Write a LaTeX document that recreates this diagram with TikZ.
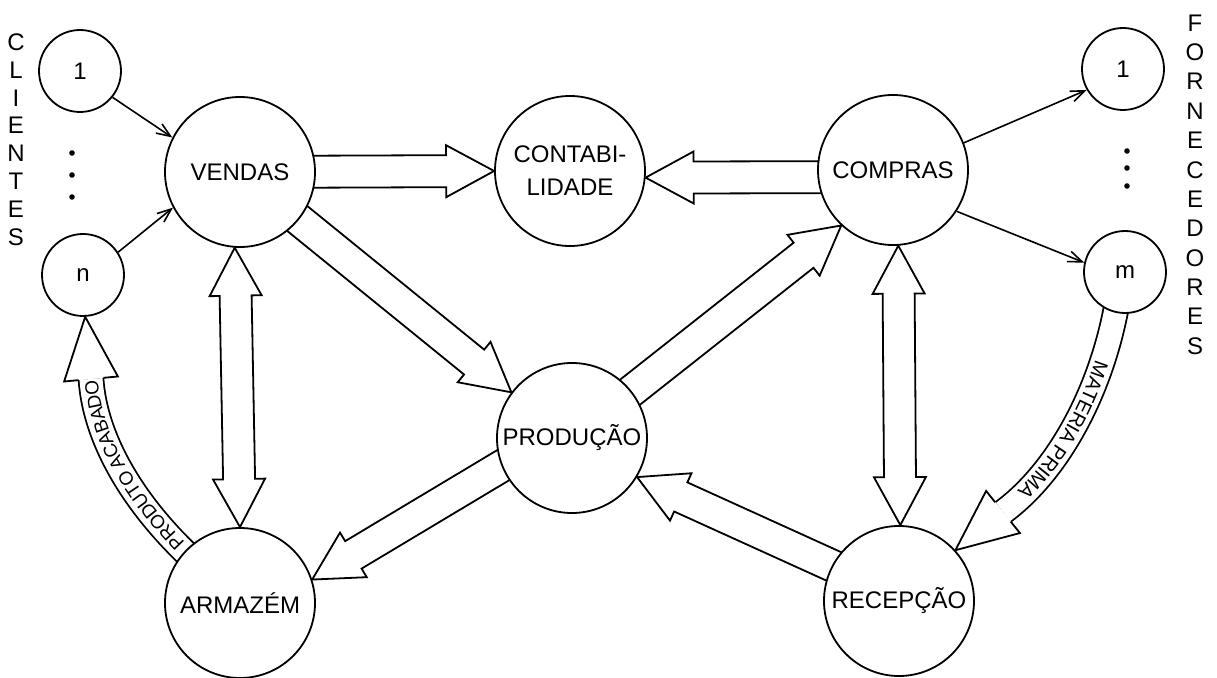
\documentclass[tikz,border=0pt]{standalone}
\usepackage{fontspec}
\setmainfont{Liberation Sans}
\usetikzlibrary{calc,arrows.meta,decorations.text}
\pgfdeclarelayer{under}
\pgfsetlayers{under,main}

% straight block arrow: #1 tail (hidden inside the source circle), #2 tip
\newcommand\flowarrow[2]{%
  \coordinate (fa-h) at ($(#2)!24pt!(#1)$);
  \filldraw[blockline] ($(#1)!8pt!90:(#2)$) -- ($(fa-h)!8pt!90:(#2)$) -- ($(fa-h)!13pt!90:(#2)$) -- (#2)
    -- ($(fa-h)!13pt!-90:(#2)$) -- ($(fa-h)!8pt!-90:(#2)$) -- ($(#1)!8pt!-90:(#2)$);
}
% block arrow with a head at both ends
\newcommand\dualarrow[2]{%
  \coordinate (da-a) at ($(#1)!24pt!(#2)$);
  \coordinate (da-b) at ($(#2)!24pt!(#1)$);
  \filldraw[blockline] (#1) -- ($(da-a)!13pt!90:(#2)$) -- ($(da-a)!8pt!90:(#2)$)
    -- ($(da-b)!8pt!-90:(#1)$) -- ($(da-b)!13pt!-90:(#1)$) -- (#2)
    -- ($(da-b)!13pt!90:(#1)$) -- ($(da-b)!8pt!90:(#1)$)
    -- ($(da-a)!8pt!-90:(#2)$) -- ($(da-a)!13pt!-90:(#2)$) -- cycle;
}
% head of a curved block arrow: #1 head base, #2 tip
\newcommand\curvehead[2]{%
  \filldraw[blockline] ($(#1)!6.2pt!90:(#2)$) -- ($(#1)!13.5pt!90:(#2)$) -- (#2)
    -- ($(#1)!13.5pt!-90:(#2)$) -- ($(#1)!6.2pt!-90:(#2)$);
}

\tikzset{
  bigc/.style={circle, draw, fill=white, line width=0.9pt, minimum size=75pt, inner sep=0pt,
    align=center, font=\fontsize{12}{16.5}\selectfont},
  smallc/.style={circle, draw, fill=white, line width=0.9pt, minimum size=41pt, inner sep=0pt,
    font=\fontsize{12}{14}\selectfont},
  blockline/.style={draw, fill=white, line width=0.9pt},
  curveshaft/.style={line width=0.9pt, double=white, double distance=11.5pt},
  thinarr/.style={line width=0.8pt, -{Straight Barb[length=7pt,width=5.5pt]}},
  sidelabel/.style={inner sep=0pt, font=\fontsize{12}{14}\selectfont},
  dotmark/.style={circle, fill, inner sep=0pt, minimum size=2.8pt},
}

\begin{document}
\begin{tikzpicture}[x=0.5pt, y=-0.5pt]
\useasboundingbox (0,0) rectangle (1217,678);

% processes
\node[bigc] (ven)  at (240,172) {VENDAS};
\node[bigc] (cont) at (570,171) {CONTABI-\\LIDADE};
\node[bigc] (comp) at (893,170) {COMPRAS};
\node[bigc] (prod) at (572,438) {PRODUÇÃO};
\node[bigc] (arm)  at (240,603) {ARMAZÉM};
\node[bigc] (rec)  at (899,601) {RECEPÇÃO};

% clients and suppliers
\node[smallc] (c1) at (80,71) {1};
\node[smallc] (cn) at (83,275) {n};
\node[smallc] (f1) at (1123,69) {1};
\node[smallc] (fm) at (1125,272) {m};

\node[dotmark] (cd1) at (72,153) {};
\node[dotmark] (cd2) at (72,175) {};
\node[dotmark] (cd3) at (72,197) {};
\node[dotmark] (fd1) at (1127,151) {};
\node[dotmark] (fd2) at (1127,168) {};
\node[dotmark] (fd3) at (1127,186) {};

\foreach \ch [count=\i from 0] in {C,L,I,E,N,T,E,S}
  \node[sidelabel] (cl\i) at (16,{42+27.9*\i}) {\ch};
\foreach \ch [count=\i from 0] in {F,O,R,N,E,C,E,D,O,R,E,S}
  \node[sidelabel] (fl\i) at (1195,{23+29.35*\i}) {\ch};

% order and purchase flows
\draw[thinarr] (c1.-39) -- (ven.153);
\draw[thinarr] (cn.33) -- (ven.208);
\draw[thinarr] (comp.21) -- (f1.210);
\draw[thinarr] (comp.-33) -- (fm.167);

\begin{pgfonlayer}{under}
  % information and material flows between processes
  \flowarrow{ven.center}{cont.180}
  \coordinate (compaxis) at ($(comp.center)+(0,7)$);
  \flowarrow{compaxis}{cont.-5}
  \flowarrow{ven.center}{prod.143}
  \flowarrow{prod.center}{comp.227}
  \coordinate (prodaxis) at ($(prod.center)+(0,-14)$);
  \flowarrow{prodaxis}{arm.18}
  \coordinate (recaxis) at ($(rec.center)+(0,-5)$);
  \flowarrow{recaxis}{prod.329}
  \dualarrow{ven.266}{arm.90}
  \dualarrow{comp.274}{rec.89}

  % finished product: warehouse to client n
  \coordinate (pa-t) at ($(arm.center)!0.6!(arm.137)$);
  \coordinate (pa-h) at (91,379);
  \draw[curveshaft] (pa-t) .. controls (135,510) and (95,440) .. (pa-h);
  \curvehead{pa-h}{cn.-87}
  \path[decorate, decoration={text along path,
      text={|\fontsize{9.5}{12}\selectfont|PRODUTO ACABADO},
      text align={left indent=18pt}, raise=-3.4pt}]
    (pa-t) .. controls (135,510) and (95,440) .. (pa-h);

  % raw material: supplier m to reception
  \coordinate (mp-t) at ($(fm.center)!0.5!(fm.-107)$);
  \coordinate (mp-h) at (1003,512);
  \draw[curveshaft] (mp-t) .. controls (1105,385) and (1060,470) .. (mp-h);
  \curvehead{mp-h}{rec.42}
  \path[decorate, decoration={text along path,
      text={|\fontsize{10}{12}\selectfont|MATERIA PRIMA},
      text align={left indent=36pt}, raise=-3.5pt}]
    (mp-t) .. controls (1105,385) and (1060,470) .. (mp-h);
\end{pgfonlayer}
\end{tikzpicture}
\end{document}
